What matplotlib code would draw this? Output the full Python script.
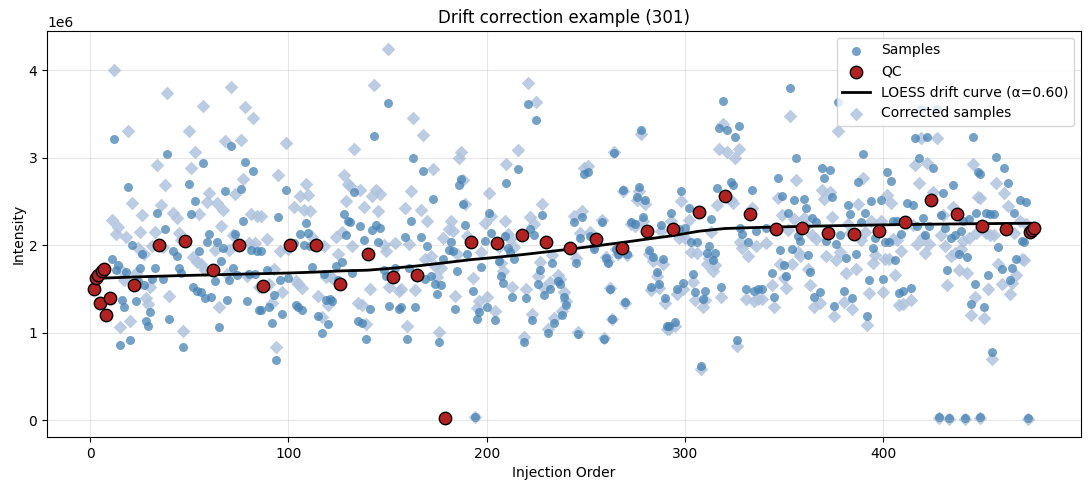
import numpy as np
import matplotlib
matplotlib.use("Agg")
import matplotlib.pyplot as plt
from matplotlib.ticker import MultipleLocator

# ---------------- data (intensity in units of 1e6) ----------------
sample_order = [
    11, 12, 13, 14, 15, 16, 17, 18, 19, 20, 21, 23, 24, 25, 26, 27, 28, 29, 30, 31, 33, 34, 36, 37, 38, 39, 40, 42,
    44, 45, 46, 47, 50, 51, 52, 53, 54, 55, 56, 57, 58, 59, 60, 61, 63, 64, 65, 66, 67, 68, 69, 70, 71, 72, 73, 74,
    76, 77, 78, 79, 80, 81, 82, 83, 84, 85, 86, 86,
    89, 90, 92, 93, 94, 95, 96, 97, 99, 100, 103, 104, 105, 106, 107, 108, 109, 110, 111, 112, 115, 117, 118, 119,
    120, 121, 122, 124, 125, 127, 128, 129, 130,
    131, 132, 133, 135, 136, 137, 138, 139, 141, 142, 143, 144, 145, 146, 148, 149, 150, 151, 154, 156, 157, 159,
    160, 161, 162, 163, 164, 167, 168, 169, 170, 172, 173, 174, 175, 176,
    177, 178, 181, 182, 183, 184, 185, 186, 187, 188, 189, 190, 193, 194, 195, 196, 197, 199, 200, 201, 202, 204,
    206, 207, 208, 209, 210, 211, 212, 213, 214, 216, 219, 220, 221,
    222, 223, 224, 225, 226, 227, 228, 229, 231, 232, 233, 234, 236, 237, 238, 239, 240, 244, 245, 246, 247, 248,
    249, 251, 252, 254, 258, 259, 260, 261, 262, 263, 264,
    265, 266, 269, 270, 271, 273, 275, 276, 277, 278, 279, 280, 282, 283, 284, 286, 287, 288, 289, 290, 291, 292,
    293, 295, 296, 297, 298, 299, 300, 302, 303, 304, 305, 306, 308, 309,
    310, 311, 312, 313, 314, 315, 316, 317, 318, 319, 321, 323, 324, 325, 326, 327, 328, 329, 331, 332, 334, 335,
    336, 337, 339, 341, 344, 345, 347, 348, 349, 350, 351, 352, 353, 354, 355,
    356, 357, 358, 360, 361, 362, 363, 364, 365, 366, 368, 369, 370, 371, 373, 374, 375, 376, 377, 378, 380, 381,
    382, 383, 384, 386, 387, 389, 390, 391, 392, 393, 394, 395, 396,
    399, 400, 401, 402, 403, 404, 405, 406, 407, 408, 409, 410, 412, 414, 415, 416, 417, 418, 419, 420, 421, 422,
    423, 425, 427, 428, 429, 430, 431, 432, 433, 434, 435, 436,
    438, 439, 440, 441, 442, 443, 444, 445, 446, 447, 448, 449, 449, 451, 452, 453, 454, 455, 456, 457, 458, 460,
    461, 463, 464, 465, 466, 467, 469, 470, 471, 472, 473,
]
sample_intensity = [
    1.84, 3.21, 1.71, 1.77, 0.86, 1.37, 1.29, 1.69, 2.66, 0.91, 2.00, 1.36, 1.59, 1.74, 1.90, 1.54, 1.13, 1.07, 1.23,
    1.61, 1.74, 2.37, 2.00, 1.61, 2.18, 3.04, 1.15, 1.93,
    1.88, 1.74, 1.68, 0.83, 2.70, 2.35, 1.52, 2.50, 1.48, 1.93, 1.46, 2.94, 1.40, 2.04, 2.13, 1.41, 1.59, 2.04, 1.06,
    1.82, 1.97, 2.62, 1.37, 1.60, 3.13, 1.74, 2.13, 1.66,
    2.64, 2.27, 2.95, 1.36, 1.67, 1.94, 2.85, 1.67, 1.93, 1.26, 1.26, 1.93,
    1.71, 1.29, 1.11, 1.43, 0.69, 2.32, 1.60, 1.21, 2.63, 1.62, 2.02, 1.32, 1.29, 2.13, 1.26, 2.00, 2.25, 2.14, 1.99,
    1.75, 1.19, 0.99, 1.67, 1.37, 1.10, 1.38, 1.36, 1.76, 1.60, 1.81, 2.36, 2.11, 2.27,
    2.26, 1.68, 2.61, 1.13, 2.22, 1.11, 2.06, 0.93, 1.27, 2.17, 3.25, 2.23, 2.03, 2.20, 1.71, 1.65, 3.62, 1.30, 1.74,
    1.27, 1.29, 2.09, 0.93, 1.74, 2.27, 3.00, 1.29, 2.09, 2.85, 1.61, 1.99, 1.65, 2.53, 1.55, 1.44, 0.89,
    1.54, 1.84, 1.94, 2.03, 1.93, 1.27, 1.70, 2.69, 2.75, 2.47, 2.23, 1.90, 1.47, 0.03, 1.16, 1.24, 1.75, 2.05, 1.29,
    2.37, 2.14, 1.14, 1.82, 1.65, 1.57, 2.10, 2.71, 1.97, 1.92, 1.41, 1.84, 2.87, 0.89, 1.40, 3.61,
    2.18, 1.14, 2.11, 3.43, 1.55, 1.71, 2.34, 1.43, 0.99, 1.50, 1.80, 1.11, 1.59, 1.55, 1.20, 1.41, 1.31, 2.26, 1.80,
    0.98, 2.08, 2.32, 2.81, 2.84, 2.10, 1.95, 2.26, 0.93, 1.85, 1.80, 1.50, 1.15, 3.05,
    1.95, 1.90, 2.63, 1.35, 1.90, 2.26, 2.24, 2.55, 2.66, 3.32, 2.32, 2.52, 1.94, 1.52, 1.86, 1.69, 1.55, 2.23, 1.84,
    1.39, 1.08, 1.08, 2.37, 1.12, 1.50, 2.18, 2.62, 1.57, 2.19, 2.42, 2.03, 1.67, 1.46, 2.03, 0.62, 1.38,
    1.47, 1.91, 1.99, 2.30, 1.83, 1.91, 2.65, 3.34, 1.52, 3.65, 3.31, 2.72, 2.69, 3.24, 0.92, 3.36, 2.20, 2.13, 1.50,
    2.03, 2.63, 1.48, 2.16, 1.50, 1.50, 2.20, 1.68, 1.41, 2.77, 1.94, 2.56, 1.77, 1.65, 2.37, 3.79, 1.95, 2.51,
    3.00, 2.10, 2.05, 2.53, 2.42, 1.89, 1.69, 2.31, 1.41, 2.26, 1.46, 2.88, 2.77, 2.05, 2.86, 2.55, 1.30, 2.01, 3.63,
    2.11, 1.48, 1.85, 2.46, 2.35, 1.39, 1.90, 2.72, 2.26, 3.04, 2.37, 1.19, 1.60, 2.50, 1.97, 2.08,
    2.51, 1.61, 2.03, 2.84, 2.03, 2.73, 2.28, 1.83, 2.27, 1.45, 2.13, 1.47, 2.48, 1.51, 2.46, 3.22, 2.22, 2.99, 3.56,
    2.31, 2.11, 3.24, 2.22, 2.88, 3.56, 0.03, 2.34, 2.59, 2.20, 1.71, 0.02, 2.08, 2.69, 2.11,
    1.90, 2.16, 2.27, 0.02, 1.86, 2.30, 1.33, 3.24, 1.56, 2.37, 2.83, 2.81, 0.03, 1.29, 2.37, 1.66, 2.35, 0.78, 2.35,
    3.01, 1.98, 1.73, 2.88, 2.71, 1.60, 1.74, 2.37, 1.84, 2.52, 2.05, 2.03, 2.49, 0.02,
]
qc_order = [2, 3, 4, 5, 6, 7, 8, 10, 22, 35, 48, 62, 75, 87, 101, 114, 126, 140, 153, 165, 179, 192, 205, 218,
            230, 242, 255, 268, 281, 294, 307, 320, 333, 346, 359, 372, 385, 398, 411, 424, 437, 450, 462,
            474, 475, 476]
qc_intensity = [1.50, 1.62, 1.66, 1.34, 1.70, 1.73, 1.20, 1.40, 1.54, 2.00, 2.05, 1.72, 2.00, 1.53, 2.00, 2.00,
                1.55, 1.90, 1.63, 1.66, 0.02, 2.04, 2.02, 2.12, 2.03, 1.97, 2.07, 1.97, 2.16, 2.18, 2.38, 2.56,
                2.35, 2.18, 2.19, 2.14, 2.13, 2.16, 2.26, 2.51, 2.36, 2.22, 2.18, 2.15, 2.17, 2.19]
loess_frac = 0.6
title = "Drift correction example (301)"


def lowess(x, y, frac):
    """Plain (non-robust) locally weighted linear regression with tricube weights."""
    x = np.asarray(x, float)
    y = np.asarray(y, float)
    n = len(x)
    k = int(np.ceil(frac * n))
    fitted = np.zeros(n)
    for i in range(n):
        d = np.abs(x - x[i])
        h = np.sort(d)[k - 1]
        u = np.clip(d / h, 0, 1)
        w = (1 - u ** 3) ** 3
        W = w.sum()
        xm = (w * x).sum() / W
        ym = (w * y).sum() / W
        den = (w * (x - xm) ** 2).sum()
        b = (w * (x - xm) * (y - ym)).sum() / den if den > 0 else 0.0
        fitted[i] = ym + b * (x[i] - xm)
    return fitted


sx = np.array(sample_order, float)
sy = np.array(sample_intensity) * 1e6
qx = np.array(qc_order, float)
qy = np.array(qc_intensity) * 1e6
order = np.argsort(qx, kind="stable")
qx_s, qy_s = qx[order], qy[order]
drift = lowess(qx_s, qy_s, loess_frac)
drift_at_samples = np.interp(sx, qx_s, drift)
corrected = sy / drift_at_samples * np.median(qy)

fig = plt.figure(figsize=(10.9, 4.9), dpi=100)
ax = fig.add_axes([47 / 1090, 1 - 437 / 490, (1081 - 47) / 1090, (437 - 31) / 490])
ax.scatter(sx, sy, s=42, color="steelblue", alpha=0.75, label="Samples", zorder=1.5, linewidths=0)
ax.scatter(qx, qy, s=80, color="firebrick", edgecolor="black", linewidth=1, label="QC", zorder=3)
ax.plot(qx_s, drift, color="black", lw=2, label=f"LOESS drift curve (\u03b1={loess_frac:.2f})", zorder=2)
ax.scatter(sx, corrected, s=48, marker="D", color="lightsteelblue", alpha=0.85, label="Corrected samples",
           zorder=1, linewidths=0)
ax.yaxis.set_major_locator(MultipleLocator(1e6))
ax.set_title(title)
ax.set_xlabel("Injection Order")
ax.set_ylabel("Intensity", labelpad=2)
ax.grid(True, alpha=0.3)
ax.legend(loc="upper right")
fig.savefig("out.png", dpi=100)
